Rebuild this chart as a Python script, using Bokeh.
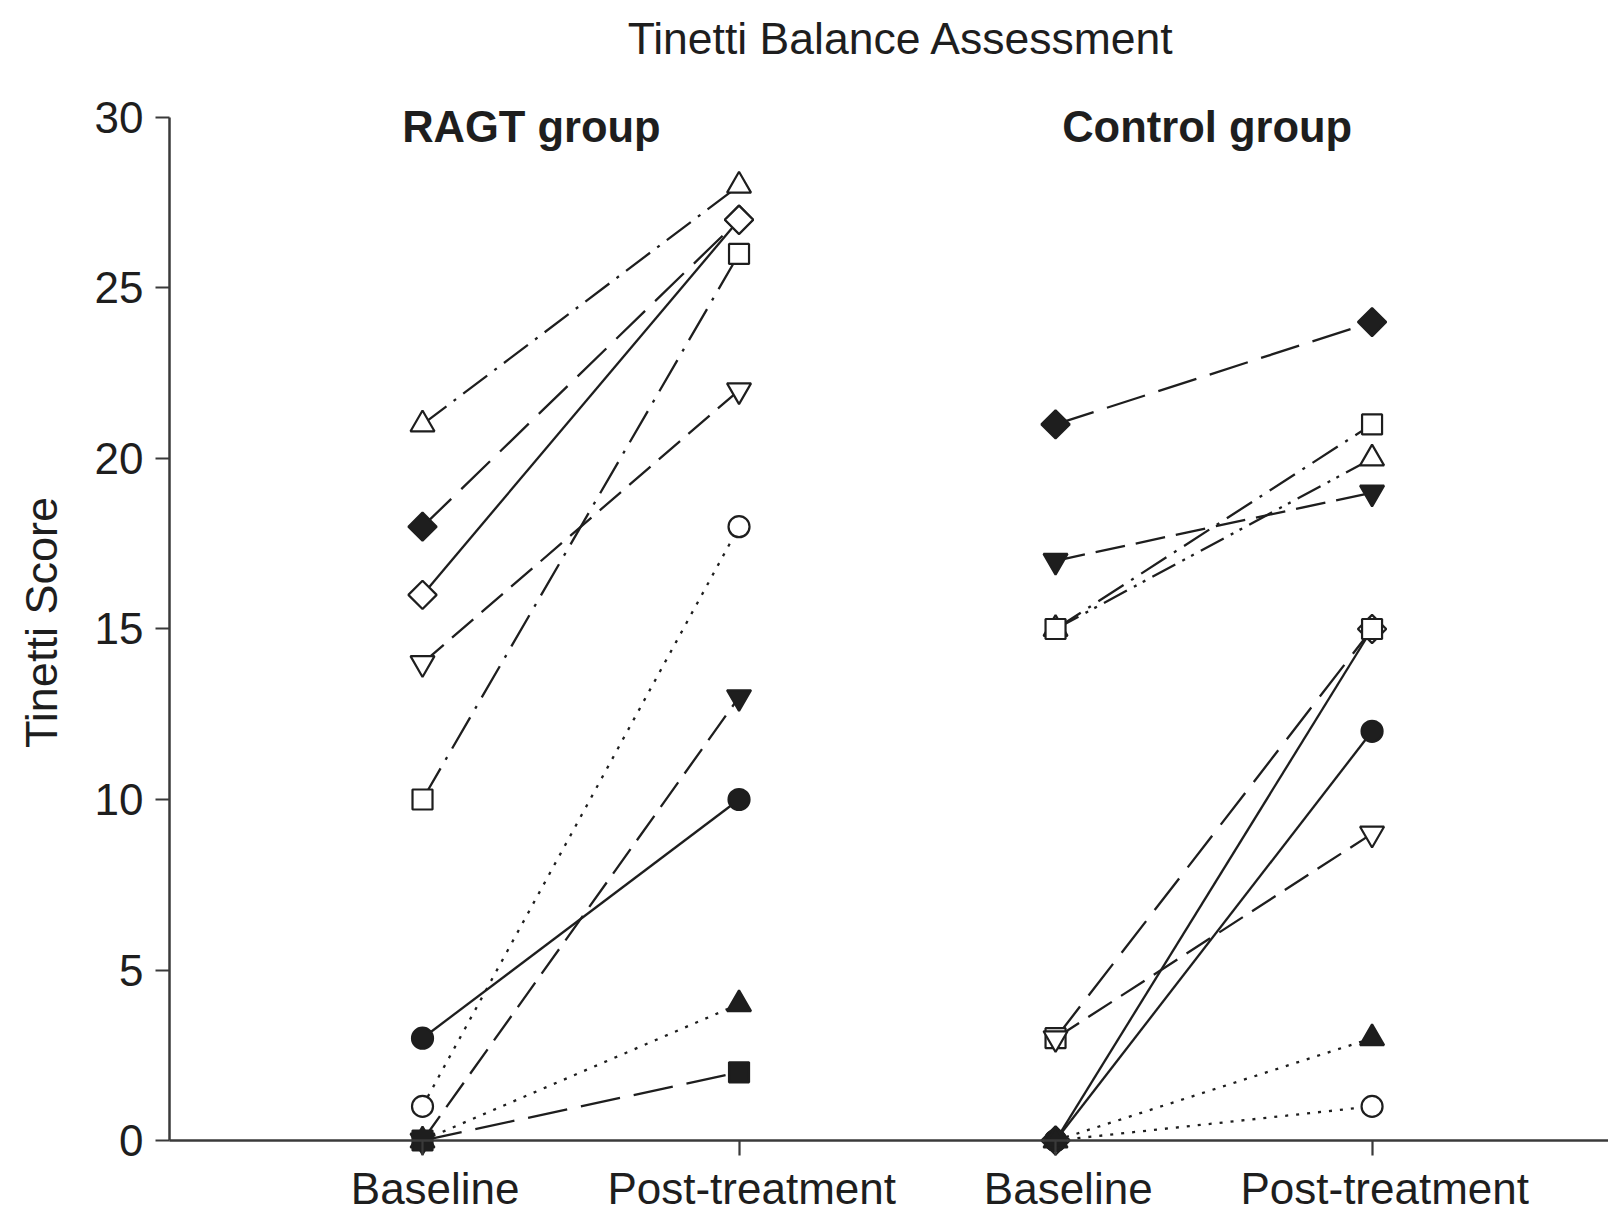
import numpy as np
from bokeh.plotting import figure
from bokeh.models import Range1d, Label, FixedTicker
from bokeh.embed import file_html
from bokeh.resources import INLINE
from bokeh.core.properties import value

# ---------------- data ----------------
title_text = "Tinetti Balance Assessment"
y_label = "Tinetti Score"
group_names = ["RAGT group", "Control group"]
tick_labels = ["Baseline", "Post-treatment", "Baseline", "Post-treatment"]
tick_positions = [1, 2, 3, 4]
y_ticks = [0, 5, 10, 15, 20, 25, 30]

ragt_baseline = [21, 18, 16, 14, 10, 1, 0, 3, 0, 0]
ragt_post = [28, 27, 27, 22, 26, 18, 13, 10, 4, 2]

control_baseline = [21, 15, 15, 17, 0, 0, 3, 3, 0, 0]
control_post = [24, 21, 20, 19, 15, 12, 9, 15, 3, 1]

# ---------------- styles ----------------
ragt_markers = ["triangle", "diamond", "diamond", "inverted_triangle", "square",
                "circle", "inverted_triangle", "circle", "triangle", "square"]
ragt_filled = [False, True, False, False, False, False, True, True, True, True]
ragt_dash = ["30 9 3 9", "40 14", "solid", "28 11", "36 10 3 10",
             "3 8", "30 11", "solid", "3 8", "40 14"]
ragt_draw_order = [0, 1, 2, 3, 4, 5, 6, 7, 8, 9]

control_markers = ["diamond", "square", "triangle", "inverted_triangle", "diamond",
                   "circle", "inverted_triangle", "square", "triangle", "circle"]
control_filled = [True, False, False, True, False, True, False, False, True, False]
control_dash = ["40 14", "30 9 3 9", "26 8 3 7 3 8", "30 11", "solid",
                "solid", "28 11", "40 14", "3 8", "3 8"]
control_draw_order = [9, 4, 7, 2, 1, 6, 3, 0, 5, 8]

INK = "#1e1e1e"
AXIS = "#3a3a3a"
FONT = "Liberation Sans"

# the frame covers the whole canvas; axes sit at fixed data locations
X0, X1 = -0.3333, 4.747
Y0, Y1 = -2.14, 33.43
Y_AXIS_AT = 0.2006
LABEL_SHIFT = 0.04      # category labels sit slightly right of their ticks
LABEL_Y = -1.42

p = figure(frame_width=1608, frame_height=1213,
           x_range=Range1d(X0, X1), y_range=Range1d(Y0, Y1),
           output_backend="svg", toolbar_location=None,
           min_border_left=0, min_border_right=0,
           min_border_top=0, min_border_bottom=0)
p.outline_line_color = None
p.grid.visible = False
p.background_fill_color = "white"
p.border_fill_color = "white"

# x axis at y = 0 (its labels are drawn as text below)
p.xaxis.fixed_location = 0
p.xaxis.bounds = (Y_AXIS_AT, X1)
p.xaxis.ticker = FixedTicker(ticks=tick_positions)
p.xaxis.major_label_overrides = {t: "" for t in tick_positions}
p.xaxis.major_tick_out = 15

# y axis at the left
p.yaxis.fixed_location = Y_AXIS_AT
p.yaxis.bounds = (0, 30)
p.yaxis.ticker = FixedTicker(ticks=y_ticks)
p.yaxis.major_tick_out = 14
p.yaxis.major_label_standoff = 12

for ax in (p.xaxis, p.yaxis):
    ax.axis_line_color = AXIS
    ax.axis_line_width = 2.5
    ax.major_tick_line_color = AXIS
    ax.major_tick_line_width = 2.2
    ax.major_tick_in = 0
    ax.minor_tick_line_color = None
    ax.major_label_text_font = FONT
    ax.major_label_text_font_size = "44px"
    ax.major_label_text_color = INK

p.text(x=[t + LABEL_SHIFT for t in tick_positions], y=[LABEL_Y] * len(tick_positions),
       text=tick_labels, text_font=value(FONT), text_font_size="44px",
       text_color=INK, text_align="center", text_baseline="middle")


def draw_group(xb, xp, base, post, markers, filled, dashes, order):
    for b, q, d in zip(base, post, dashes):
        p.line([xb, xp], [b, q], line_color=INK, line_width=2.3, line_dash=d)
    for i in order:
        b, q, m, f = base[i], post[i], markers[i], filled[i]
        kw = dict(line_color=INK, line_width=2.2,
                  fill_color=INK if f else "white")
        if m == "diamond":
            p.scatter([xb, xp], [b, q], marker="square", size=20,
                      angle=np.pi / 4, **kw)
        elif m == "circle":
            p.scatter([xb, xp], [b, q], marker="circle", size=21, **kw)
        elif m == "square":
            p.scatter([xb, xp], [b, q], marker="square", size=20, **kw)
        else:
            p.scatter([xb, xp], [b, q], marker=m, size=24, **kw)


draw_group(tick_positions[0], tick_positions[1], ragt_baseline, ragt_post,
           ragt_markers, ragt_filled, ragt_dash, ragt_draw_order)
draw_group(tick_positions[2], tick_positions[3], control_baseline, control_post,
           control_markers, control_filled, control_dash, control_draw_order)

# texts
p.add_layout(Label(x=2.513, y=32.32, text=title_text, text_font=FONT,
                   text_font_size="44.5px", text_color=INK,
                   text_align="center", text_baseline="middle"))
p.add_layout(Label(x=1.344, y=29.72, text=group_names[0], text_font=FONT,
                   text_font_size="43.5px", text_font_style="bold", text_color=INK,
                   text_align="center", text_baseline="middle"))
p.add_layout(Label(x=3.479, y=29.72, text=group_names[1], text_font=FONT,
                   text_font_size="43.5px", text_font_style="bold", text_color=INK,
                   text_align="center", text_baseline="middle"))
p.add_layout(Label(x=-0.2038, y=15.19, text=y_label, text_font=FONT,
                   text_font_size="45px", text_color=INK, angle=np.pi / 2,
                   text_align="center", text_baseline="middle"))

open("out.html", "w").write(file_html(p, INLINE))
